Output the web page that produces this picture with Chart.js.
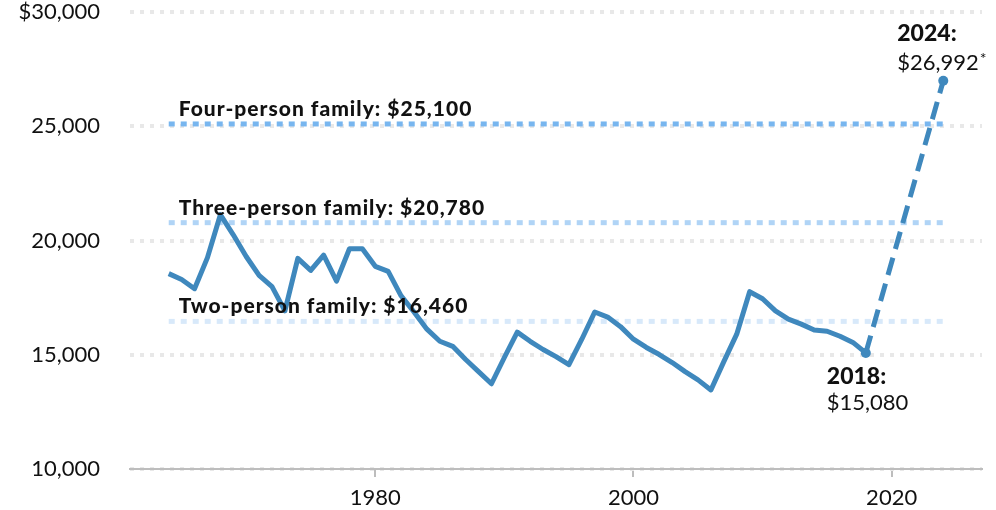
<!DOCTYPE html>
<html>
<head>
<meta charset="utf-8">
<script src="https://cdn.jsdelivr.net/npm/chart.js@4/dist/chart.umd.min.js"></script>
<style>
  html, body { margin: 0; padding: 0; background: #fff; }
  #chart { display: block; }
</style>
</head>
<body>
<canvas id="chart" width="996" height="510"></canvas>
<script>
// poverty threshold, single person, 1964-2018 then projected 2024
const YEARS = [1964, 1965, 1966, 1967, 1968, 1969, 1970, 1971, 1972, 1973,
  1974, 1975, 1976, 1977, 1978, 1979, 1980, 1981, 1982, 1983,
  1984, 1985, 1986, 1987, 1988, 1989, 1990, 1991, 1992, 1993,
  1994, 1995, 1996, 1997, 1998, 1999, 2000, 2001, 2002, 2003,
  2004, 2005, 2006, 2007, 2008, 2009, 2010, 2011, 2012, 2013,
  2014, 2015, 2016, 2017, 2018];
const VALUES = [18550, 18290, 17890, 19250, 21130, 20250, 19300, 18470, 17980, 16920,
  19220, 18690, 19360, 18220, 19640, 19640, 18870, 18650, 17580, 16870,
  16120, 15590, 15370, 14790, 14260, 13730, 14880, 15990, 15590, 15230,
  14920, 14570, 15680, 16870, 16650, 16230, 15680, 15320, 15010, 14660,
  14260, 13900, 13460, 14700, 15900, 17760, 17450, 16920, 16560, 16340,
  16080, 16030, 15810, 15540, 15080];
const PROJ_YEAR = 2024;
const PROJ_VALUE = 26992;

const FAMILY_LABELS = ['Four-person family', 'Three-person family', 'Two-person family'];
const FAMILY_VALUES = [25100, 20780, 16460];
const FAMILY_COLORS = ['#78b6ef', '#b0d4f6', '#d8e9fa'];
const FAMILY_SPAN = [1964, 2024];

const Y_TICKS = [10000, 15000, 20000, 25000, 30000];
const X_TICKS = [1980, 2000, 2020];

const FONT = 'Lato, "Open Sans", sans-serif';
const LINE_BLUE = '#3f88bd';

const fmt = v => v.toLocaleString('en-US');

const mainData = YEARS.map((y, i) => ({ x: y, y: VALUES[i] }));
mainData.push({ x: PROJ_YEAR, y: PROJ_VALUE });

const familySets = FAMILY_VALUES.map((v, i) => ({
  label: FAMILY_LABELS[i],
  data: FAMILY_SPAN.map(x => ({ x: x, y: v })),
  borderColor: FAMILY_COLORS[i],
  borderWidth: 5,
  borderDash: [6, 6],
  borderCapStyle: 'butt',
  pointRadius: 0,
  fill: false,
  order: 2
}));

const labelsPlugin = {
  id: 'labels',
  afterDatasetsDraw(chart) {
    const { ctx, scales: { x, y } } = chart;
    ctx.save();
    ctx.fillStyle = '#111';
    ctx.textBaseline = 'alphabetic';
    ctx.textAlign = 'left';
    // family line captions
    ctx.font = '900 21px ' + FONT;
    ctx.letterSpacing = '1px';
    FAMILY_VALUES.forEach((v, i) => {
      ctx.fillText(FAMILY_LABELS[i] + ': $' + fmt(v), x.getPixelForValue(FAMILY_SPAN[0]) + 10, y.getPixelForValue(v) - 8);
    });
    ctx.letterSpacing = '0px';
    // endpoint callouts
    const lastYear = YEARS[YEARS.length - 1];
    const lastVal = VALUES[VALUES.length - 1];
    let px = x.getPixelForValue(lastYear), py = y.getPixelForValue(lastVal);
    ctx.font = '900 23px ' + FONT;
    ctx.fillText(lastYear + ':', px - 39, py + 31);
    ctx.font = '22px ' + FONT;
    ctx.fillText('$' + fmt(lastVal), px - 39, py + 57);
    px = x.getPixelForValue(PROJ_YEAR); py = y.getPixelForValue(PROJ_VALUE);
    ctx.font = '900 23px ' + FONT;
    ctx.fillText(PROJ_YEAR + ':', px - 46, py - 40);
    ctx.font = '22px ' + FONT;
    const amount = '$' + fmt(PROJ_VALUE);
    ctx.fillText(amount, px - 46, py - 11);
    const w = ctx.measureText(amount).width;
    ctx.font = '16px ' + FONT;
    ctx.fillText('*', px - 46 + w + 1, py - 17);
    ctx.restore();
  }
};

new Chart(document.getElementById('chart'), {
  type: 'line',
  data: {
    datasets: [
      ...familySets,
      {
        label: 'Single person',
        data: mainData,
        borderColor: LINE_BLUE,
        backgroundColor: LINE_BLUE,
        borderWidth: 5,
        borderJoinStyle: 'round',
        pointRadius: mainData.map(p => (p.x === 2018 || p.x === PROJ_YEAR) ? 5 : 0),
        pointBorderWidth: 0,
        segment: {
          borderDash: c => c.p1.parsed.x > 2018 ? [18, 9] : undefined
        },
        fill: false,
        order: 1
      }
    ]
  },
  options: {
    responsive: false,
    animation: false,
    layout: { padding: { top: 12, right: 14, left: 0, bottom: 0 } },
    plugins: {
      legend: { display: false },
      tooltip: { enabled: false }
    },
    scales: {
      x: {
        type: 'linear',
        min: 1961,
        max: 2027,
        afterBuildTicks: s => { s.ticks = X_TICKS.map(v => ({ value: v })); },
        afterFit: s => { s.height = 41; s.paddingLeft = 0; s.paddingRight = 0; },
        grid: { display: true, drawOnChartArea: false, drawTicks: true, tickLength: 8, color: '#bdbdbd', lineWidth: 2 },
        border: { display: true, color: '#bdbdbd', width: 2 },
        ticks: { font: { family: FONT, size: 22 }, color: '#111', padding: 8, callback: v => String(v), maxRotation: 0 }
      },
      y: {
        min: 10000,
        max: 30000,
        afterBuildTicks: s => { s.ticks = Y_TICKS.map(v => ({ value: v })); },
        afterFit: s => { s.width = 130; s.paddingTop = 0; s.paddingBottom = 0; },
        grid: { color: '#e8e8e8', lineWidth: 4, drawTicks: false },
        border: { display: false, dash: [4, 6] },
        ticks: {
          font: { family: FONT, size: 22 },
          color: '#111',
          padding: 30,
          callback: v => (v === 30000 ? '$' : '') + fmt(v)
        }
      }
    }
  },
  plugins: [labelsPlugin]
});
</script>
</body>
</html>
